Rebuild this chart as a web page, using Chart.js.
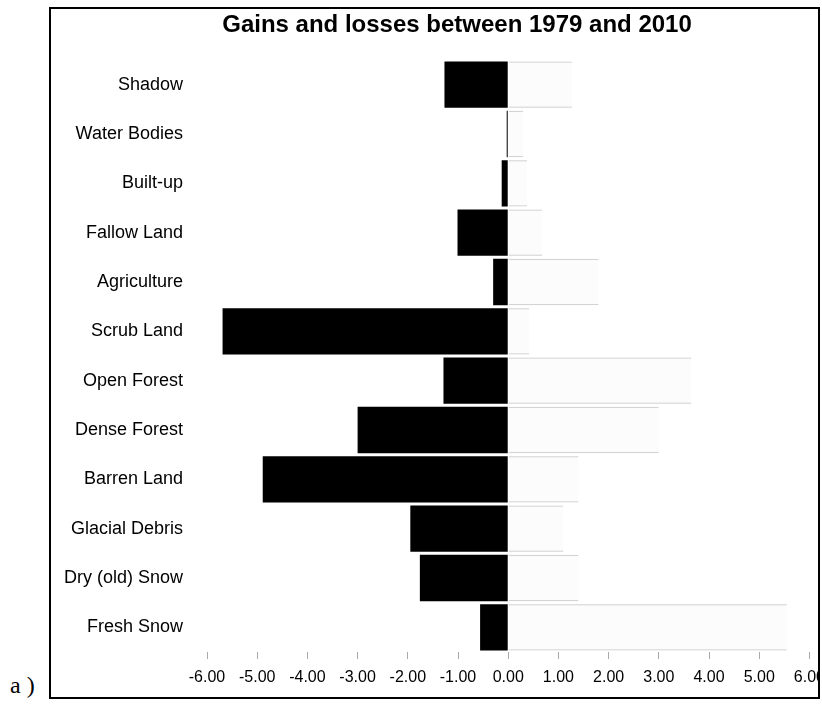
<!DOCTYPE html>
<html>
<head>
<meta charset="utf-8">
<script src="https://cdn.jsdelivr.net/npm/chart.js@4"></script>
<style>
  html, body { margin: 0; padding: 0; background: #fff; }
  body { width: 822px; height: 706px; position: relative; overflow: hidden; }
  #frame {
    position: absolute; left: 49px; top: 7px; width: 767px; height: 688px;
    border: 2px solid #000; overflow: hidden; background: #fff;
  }
  #wrap { position: absolute; left: 0; top: 0; width: 783px; height: 686px; }
  #title {
    position: absolute; left: 0; top: 10px; width: 822px; padding-left: 92px;
    box-sizing: border-box; text-align: center;
    font: bold 24px "Liberation Sans", Arial, sans-serif; color: #000;
  }
  #panel {
    position: absolute; left: 10px; top: 672px;
    font: 24px "Liberation Serif", "Times New Roman", serif; color: #000;
  }
</style>
</head>
<body>
<div id="frame">
  <div id="wrap"><canvas id="c"></canvas></div>
</div>
<div id="title">Gains and losses between 1979 and 2010</div>
<div id="panel">a )</div>
<script>
// Land-cover classes, top to bottom
const categories = ['Shadow', 'Water Bodies', 'Built-up', 'Fallow Land', 'Agriculture', 'Scrub Land',
  'Open Forest', 'Dense Forest', 'Barren Land', 'Glacial Debris', 'Dry (old) Snow', 'Fresh Snow'];
// Losses (negative) and gains (positive), in percent
const losses = [-1.27, -0.03, -0.13, -1.01, -0.30, -5.69, -1.29, -3.00, -4.89, -1.95, -1.76, -0.56];
const gains  = [ 1.27,  0.30,  0.38,  0.68,  1.80,  0.42,  3.65,  3.00,  1.40,  1.10,  1.40,  5.55];
// Value axis range and tick step
const xMin = -6, xMax = 6, xStep = 1;

const family = '"Liberation Sans", Arial, sans-serif';

new Chart(document.getElementById('c'), {
  type: 'bar',
  data: {
    labels: categories,
    datasets: [
      {
        label: 'Losses',
        data: losses,
        backgroundColor: '#000',
        borderWidth: 0,
        barPercentage: 0.94,
        categoryPercentage: 1.0
      },
      {
        label: 'Gains',
        data: gains,
        backgroundColor: 'rgba(0,0,0,0.012)',
        borderColor: '#c6c6c6',
        borderWidth: { top: 1, bottom: 1, left: 0, right: 0 },
        borderSkipped: false,
        barPercentage: 0.94,
        categoryPercentage: 1.0
      }
    ]
  },
  options: {
    indexAxis: 'y',
    responsive: true,
    maintainAspectRatio: false,
    animation: false,
    layout: { padding: { top: 51, left: 0, right: 0, bottom: 0 } },
    plugins: {
      legend: { display: false },
      title: { display: false },
      tooltip: { enabled: false }
    },
    scales: {
      x: {
        stacked: true,
        min: xMin,
        max: xMax,
        ticks: {
          stepSize: xStep,
          color: '#000',
          font: { family: family, size: 16 },
          padding: 9,
          maxRotation: 0,
          autoSkip: false,
          callback: v => Number(v).toFixed(2)
        },
        grid: { drawOnChartArea: false, tickLength: 7, color: '#aaa' },
        border: { display: false },
        afterFit: s => { s.height = 43; }
      },
      y: {
        stacked: true,
        ticks: { color: '#000', font: { family: family, size: 18 }, padding: 16 },
        grid: { display: false },
        border: { display: false },
        afterFit: s => { s.width = 156; }
      }
    }
  }
});
</script>
</body>
</html>
